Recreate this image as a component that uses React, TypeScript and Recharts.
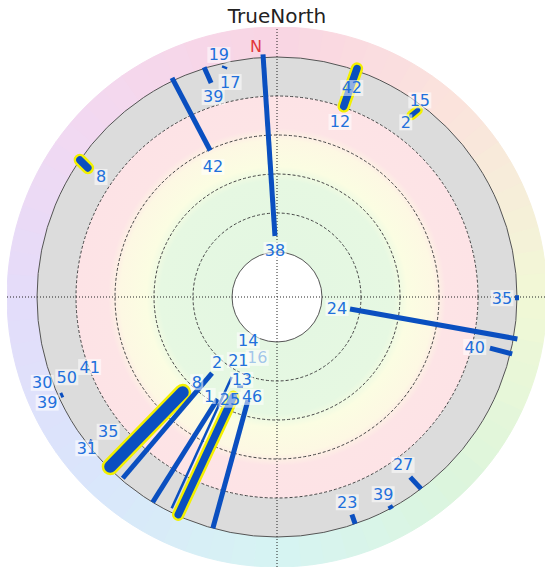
import React from "react";
import {
  PieChart,
  Pie,
  Cell,
  PolarGrid,
  ScatterChart,
  Scatter,
  XAxis,
  YAxis,
  ReferenceLine,
} from "recharts";

const title = "TrueNorth";

// plot radius units: hole 45, rings every ~39, outer edge 270
const ringRadii = [84, 123, 162, 201];
const holeRadius = 45;
const gridEdge = 240;
const outerEdge = 270;

// [outer bearing, outer radius, inner bearing, inner radius, weight, flagged]
const segments: [number, number, number, number, string, boolean][] = [
  [356.7, 243, 358.1, 61, "normal", false],
  [334.4, 243, 335.5, 161, "normal", false],
  [342.4, 241, 342.9, 224, "normal", false],
  [346.6, 237, 347.7, 234, "thin", false],
  [19.3, 242, 19.3, 202, "wide", true],
  [37.0, 234, 36.5, 226, "normal", true],
  [304.8, 240, 304.3, 229, "wide", true],
  [99.9, 244, 99.3, 74, "normal", false],
  [90.2, 242, 90.2, 238, "normal", false],
  [103.6, 242, 103.5, 219, "normal", false],
  [143.1, 240, 143.5, 224, "normal", false],
  [151.6, 241, 151.6, 237, "normal", false],
  [161.0, 240, 161.0, 230, "normal", false],
  [195.5, 240, 195.7, 107, "normal", false],
  [204.0, 98, 200.7, 96, "thin", false],
  [224.5, 238, 224.7, 134, "heavy", true],
  [220.4, 238, 220.5, 100, "normal", false],
  [211.2, 240, 210.2, 118, "normal", false],
  [204.4, 239, 203.7, 109, "wide", true],
  [206.5, 236, 209.5, 92, "thin", false],
  [245.5, 238, 245.5, 235, "normal", false],
  [232.0, 238, 232.5, 234, "thin", false],
];

// [text, bearing, radius, kind]
const labels: [string, number, number, string][] = [
  ["N", 355.2, 251, "north"],
  ["38", 357.6, 47, "id"],
  ["42", 333.8, 145, "id"],
  ["19", 346.5, 249, "id"],
  ["17", 347.7, 220, "id"],
  ["39", 342.3, 210, "id"],
  ["42", 19.7, 222, "id"],
  ["12", 19.8, 186, "id"],
  ["15", 36.0, 243, "id"],
  ["2", 36.4, 217, "id"],
  ["8", 304.3, 213, "id"],
  ["24", 100.4, 61, "id"],
  ["35", 90.3, 225, "id"],
  ["40", 104.2, 204, "id"],
  ["27", 143.1, 210, "id"],
  ["39", 151.7, 224, "id"],
  ["23", 161.1, 217, "id"],
  ["16", 198.0, 64, "faint"],
  ["14", 213.5, 52, "id"],
  ["2", 222.3, 89, "id"],
  ["21", 211.5, 74, "id"],
  ["13", 203.0, 90, "id"],
  ["46", 194.0, 103, "id"],
  ["8", 223.3, 117, "id"],
  ["1", 214.4, 120, "id"],
  ["25", 204.6, 113, "id"],
  ["41", 249.5, 200, "id"],
  ["50", 249.1, 225, "id"],
  ["30", 249.9, 250, "id"],
  ["39", 245.3, 253, "id"],
  ["35", 231.4, 216, "id"],
  ["31", 231.5, 243, "id"],
];

// rim hue, every 45 degrees clockwise from north
const rimAnchors = ["#f9d5e3", "#fbe4dc", "#f1f8d6", "#dcf5dc", "#d6f4f3", "#d9e6fb", "#e4dcfa", "#f3d8f0"];

const weightWidth: Record<string, number> = { thin: 2.5, normal: 5, wide: 7.5, heavy: 12 };
const lineBlue = "#0a4fc0";
const labelBlue = "#2170dc";

const toXY = (bearing: number, r: number) => {
  const a = (bearing * Math.PI) / 180;
  return { x: r * Math.sin(a), y: r * Math.cos(a) };
};

const hex = (c: string) => [1, 3, 5].map((i) => parseInt(c.slice(i, i + 2), 16));
const mix = (a: string, b: string, t: number) => {
  const p = hex(a);
  const q = hex(b);
  return "rgb(" + p.map((v, i) => Math.round(v + (q[i] - v) * t)).join(",") + ")";
};

const rimSlices = Array.from({ length: 72 }, (_, i) => {
  const mid = i * 5 + 2.5;
  const k = Math.floor(mid / 45);
  return { v: 1, color: mix(rimAnchors[k % 8], rimAnchors[(k + 1) % 8], (mid - k * 45) / 45) };
});

const labelPoints = labels.map(([text, b, r, kind]) => ({ ...toXY(b, r), text, kind }));

const renderLabel = (props: any) => {
  const { cx, cy, payload } = props;
  const north = payload.kind === "north";
  const w = payload.text.length * 10 + 3;
  return (
    <g>
      {!north && (
        <rect x={cx - w / 2} y={cy - 8} width={w} height={16} fill="#ffffff" fillOpacity={0.55} />
      )}
      <text
        x={cx}
        y={cy}
        textAnchor="middle"
        dominantBaseline="central"
        fontFamily="DejaVu Sans, sans-serif"
        fontSize={16}
        fill={north ? "#e2383a" : labelBlue}
        fillOpacity={payload.kind === "faint" ? 0.4 : 1}
      >
        {payload.text}
      </text>
    </g>
  );
};

const one = [{ v: 1 }];
const size = outerEdge * 2;
const frame = { position: "absolute" as const, left: 277 - outerEdge, top: 297 - outerEdge };

export default function App() {
  return (
    <div style={{ position: "absolute", left: 0, top: 0, width: 545, height: 569, background: "#fff" }}>
      <div
        style={{
          position: "absolute",
          top: 4,
          left: 0,
          width: 554,
          textAlign: "center",
          fontFamily: "DejaVu Sans, sans-serif",
          fontSize: 20,
          lineHeight: "24px",
          color: "#222",
        }}
      >
        {title}
      </div>

      <div style={frame}>
        <PieChart width={size} height={size} margin={{ top: 0, right: 0, bottom: 0, left: 0 }}>
          <defs>
            <radialGradient id="bands" cx="50%" cy="50%" r="50%">
              <stop offset="0.22" stopColor="#e4f7e2" />
              <stop offset="0.58" stopColor="#e6f8e2" />
              <stop offset="0.65" stopColor="#fbfde2" />
              <stop offset="0.78" stopColor="#fdf8e3" />
              <stop offset="0.84" stopColor="#fde4e6" />
              <stop offset="1" stopColor="#fde3e6" />
            </radialGradient>
          </defs>
          <Pie
            data={rimSlices}
            dataKey="v"
            cx={outerEdge}
            cy={outerEdge}
            innerRadius={gridEdge}
            outerRadius={outerEdge}
            startAngle={90}
            endAngle={-270}
            stroke="none"
            isAnimationActive={false}
          >
            {rimSlices.map((s, i) => (
              <Cell key={i} fill={s.color} stroke={s.color} strokeWidth={1} />
            ))}
          </Pie>
          <Pie
            data={one}
            dataKey="v"
            cx={outerEdge}
            cy={outerEdge}
            innerRadius={201}
            outerRadius={gridEdge}
            startAngle={90}
            endAngle={-270}
            fill="#dcdcdc"
            stroke="none"
            isAnimationActive={false}
          />
          <Pie
            data={one}
            dataKey="v"
            cx={outerEdge}
            cy={outerEdge}
            innerRadius={holeRadius}
            outerRadius={201}
            startAngle={90}
            endAngle={-270}
            fill="url(#bands)"
            stroke="none"
            isAnimationActive={false}
          />
        </PieChart>
      </div>

      {/* rings go in their own layer so the band pies don't cover them */}
      <div style={frame}>
        <PieChart width={size} height={size} margin={{ top: 0, right: 0, bottom: 0, left: 0 }}>
          <PolarGrid
            gridType="circle"
            radialLines={false}
            polarAngles={[]}
            polarRadius={ringRadii}
            stroke="#444"
            strokeDasharray="3 2"
          />
          <PolarGrid
            gridType="circle"
            radialLines={false}
            polarAngles={[]}
            polarRadius={[holeRadius, gridEdge]}
            stroke="#555"
          />
        </PieChart>
      </div>

      <div style={frame}>
        <ScatterChart width={size} height={size} margin={{ top: 0, right: 0, bottom: 0, left: 0 }}>
          <XAxis type="number" dataKey="x" domain={[-outerEdge, outerEdge]} allowDataOverflow hide />
          <YAxis type="number" dataKey="y" domain={[-outerEdge, outerEdge]} allowDataOverflow hide />
          <ReferenceLine x={0} stroke="#222" strokeDasharray="1 2" />
          <ReferenceLine y={0} stroke="#222" strokeDasharray="1 2" />
          {segments
            .filter((s) => s[5])
            .map(([b1, r1, b2, r2, w], i) => (
              <ReferenceLine
                key={"h" + i}
                segment={[toXY(b1, r1), toXY(b2, r2)]}
                stroke="#f2f000"
                strokeWidth={weightWidth[w] + 5}
                strokeLinecap="round"
              />
            ))}
          {segments.map(([b1, r1, b2, r2, w, hl], i) => (
            <ReferenceLine
              key={"s" + i}
              segment={[toXY(b1, r1), toXY(b2, r2)]}
              stroke={lineBlue}
              strokeWidth={weightWidth[w]}
              strokeLinecap={hl ? "round" : "butt"}
            />
          ))}
          <Scatter data={labelPoints} shape={renderLabel} isAnimationActive={false} />
        </ScatterChart>
      </div>
    </div>
  );
}
